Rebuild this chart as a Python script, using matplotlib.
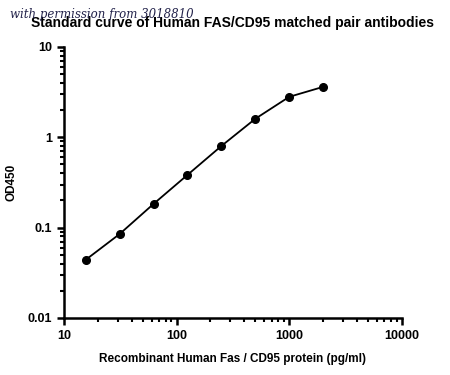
import numpy as np
import matplotlib
matplotlib.use("Agg")
import matplotlib.pyplot as plt
from matplotlib.ticker import LogLocator, NullFormatter, FixedLocator, FixedFormatter

# Datos de la curva estándar
conc = [15.6, 31.25, 62.5, 125, 250, 500, 1000, 2000]   # pg/ml
od450 = [0.044, 0.085, 0.183, 0.383, 0.80, 1.60, 2.80, 3.61]

x_ticks = [10, 100, 1000, 10000]
x_labels = ["10", "100", "1000", "10000"]
y_ticks = [0.01, 0.1, 1, 10]
y_labels = ["0.01", "0.1", "1", "10"]

plt.rcParams['font.family'] = ['Liberation Sans', 'DejaVu Sans']

fig = plt.figure(figsize=(4.5, 3.75), dpi=100)
ax = fig.add_axes([0.142, 0.152, 0.751, 0.723])

ax.plot(conc, od450, color='black', lw=1.3, marker='o', ms=5.5, zorder=3)

ax.set_xscale('log')
ax.set_yscale('log')
ax.set_xlim(10, 10000)
ax.set_ylim(0.01, 10)

ax.xaxis.set_major_locator(FixedLocator(x_ticks))
ax.xaxis.set_major_formatter(FixedFormatter(x_labels))
ax.yaxis.set_major_locator(FixedLocator(y_ticks))
ax.yaxis.set_major_formatter(FixedFormatter(y_labels))
ax.xaxis.set_minor_locator(LogLocator(base=10, subs=np.arange(2, 10)))
ax.yaxis.set_minor_locator(LogLocator(base=10, subs=np.arange(2, 10)))
ax.xaxis.set_minor_formatter(NullFormatter())
ax.yaxis.set_minor_formatter(NullFormatter())

for s in ['top', 'right']:
    ax.spines[s].set_visible(False)
for s in ['left', 'bottom']:
    ax.spines[s].set_linewidth(1.8)

ax.tick_params(which='major', length=5, width=1.8, labelsize=9)
ax.tick_params(which='minor', length=3, width=1.5)
for lab in ax.get_xticklabels() + ax.get_yticklabels():
    lab.set_fontweight('bold')

ax.set_xlabel('Recombinant Human Fas / CD95 protein (pg/ml)', fontsize=8.5, fontweight='bold', labelpad=8)
ax.set_ylabel('OD450', fontsize=8.5, fontweight='bold')
ax.yaxis.set_label_coords(-0.136, 0.5)
ax.set_title('Standard curve of Human FAS/CD95 matched pair antibodies',
             fontsize=10, fontweight='bold', pad=14)

# marca de agua (se superpone al título como en el original)
fig.text(0.022, 0.962, 'with permission from 3018810', fontsize=8.5, style='italic',
         color='#22224a', family='DejaVu Serif', va='center')

plt.savefig("out.png", dpi=100)
